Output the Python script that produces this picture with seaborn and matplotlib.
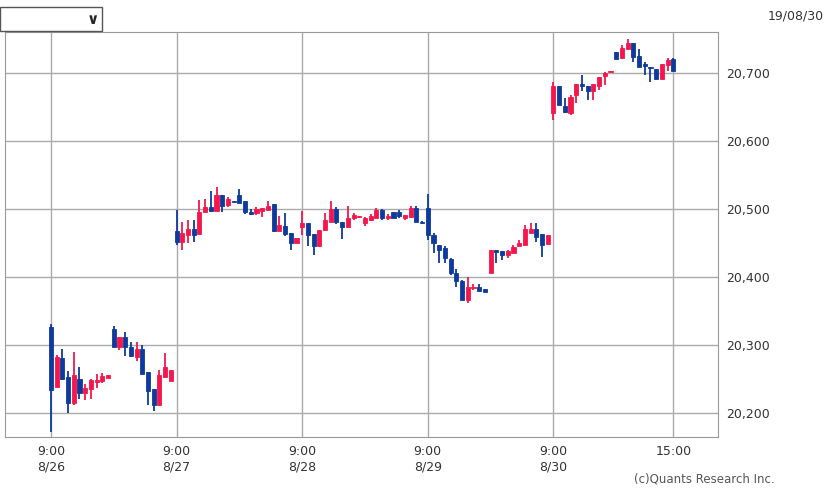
import numpy as np
import matplotlib.pyplot as plt
import matplotlib.patches as mpatches
import seaborn as sns

sns.set_style("white")
plt.rcParams["font.family"] = ["DejaVu Sans"]

# 15-minute candles, 22 per session, 5 sessions
day_labels = ["9:00\n8/26", "9:00\n8/27", "9:00\n8/28", "9:00\n8/29", "9:00\n8/30", "15:00"]
opens = [
    20327, 20238, 20281, 20253, 20215, 20250, 20229, 20235, 20246, 20247, 20252, 20324, 20297, 20312, 20297, 20282, 20294, 20260, 20235, 20212, 20253, 20247,
    20468, 20452, 20462, 20471, 20463, 20495, 20503, 20497, 20521, 20506, 20512, 20521, 20511, 20496, 20494, 20497, 20498, 20507, 20468, 20475, 20464, 20450,
    20474, 20479, 20463, 20445, 20469, 20481, 20500, 20481, 20474, 20487, 20488, 20479, 20484, 20486, 20498, 20487, 20496, 20496, 20487, 20488, 20502, 20481,
    20502, 20462, 20447, 20443, 20426, 20406, 20394, 20366, 20384, 20386, 20382, 20406, 20440, 20438, 20432, 20435, 20446, 20447, 20465, 20471, 20463, 20449,
    20641, 20680, 20651, 20641, 20668, 20684, 20681, 20673, 20680, 20695, 20701, 20731, 20722, 20735, 20743, 20725, 20713, 20709, 20705, 20691, 20712, 20720,
]
closes = [
    20234, 20283, 20251, 20215, 20256, 20229, 20237, 20249, 20249, 20254, 20256, 20297, 20312, 20297, 20284, 20294, 20257, 20232, 20212, 20256, 20268, 20263,
    20452, 20465, 20471, 20462, 20496, 20503, 20497, 20521, 20505, 20515, 20510, 20509, 20495, 20493, 20500, 20502, 20504, 20468, 20476, 20463, 20450, 20457,
    20479, 20462, 20446, 20469, 20484, 20500, 20481, 20474, 20487, 20491, 20490, 20486, 20489, 20498, 20486, 20489, 20487, 20489, 20491, 20502, 20481, 20480,
    20462, 20450, 20440, 20428, 20406, 20394, 20366, 20385, 20386, 20380, 20378, 20440, 20437, 20432, 20438, 20444, 20450, 20471, 20471, 20459, 20447, 20462,
    20681, 20653, 20643, 20665, 20683, 20681, 20673, 20684, 20693, 20700, 20702, 20720, 20737, 20743, 20723, 20709, 20710, 20707, 20691, 20713, 20718, 20703,
]
highs = [
    20331, 20285, 20294, 20262, 20290, 20268, 20243, 20251, 20257, 20259, 20256, 20328, 20312, 20319, 20304, 20304, 20300, 20260, 20235, 20263, 20288, 20263,
    20498, 20481, 20484, 20484, 20513, 20515, 20527, 20532, 20521, 20518, 20512, 20529, 20511, 20500, 20503, 20502, 20511, 20507, 20489, 20494, 20464, 20457,
    20497, 20479, 20463, 20469, 20494, 20512, 20503, 20481, 20505, 20494, 20490, 20488, 20493, 20502, 20500, 20492, 20496, 20499, 20491, 20505, 20505, 20482,
    20522, 20465, 20447, 20445, 20428, 20412, 20396, 20400, 20390, 20390, 20382, 20440, 20440, 20438, 20440, 20447, 20454, 20476, 20479, 20479, 20463, 20462,
    20687, 20680, 20663, 20668, 20683, 20697, 20681, 20684, 20693, 20701, 20702, 20731, 20741, 20750, 20743, 20735, 20716, 20709, 20705, 20713, 20722, 20722,
]
lows = [
    20172, 20238, 20249, 20201, 20212, 20221, 20219, 20221, 20237, 20244, 20252, 20297, 20293, 20284, 20282, 20277, 20257, 20212, 20204, 20212, 20253, 20247,
    20447, 20440, 20450, 20452, 20463, 20495, 20495, 20497, 20495, 20503, 20510, 20509, 20492, 20491, 20491, 20488, 20498, 20466, 20468, 20460, 20439, 20450,
    20462, 20445, 20432, 20445, 20469, 20481, 20478, 20456, 20472, 20484, 20487, 20475, 20482, 20486, 20484, 20484, 20487, 20487, 20484, 20486, 20481, 20479,
    20454, 20435, 20421, 20421, 20403, 20385, 20366, 20362, 20381, 20380, 20378, 20406, 20421, 20425, 20428, 20435, 20446, 20447, 20465, 20452, 20429, 20449,
    20631, 20653, 20641, 20638, 20656, 20673, 20660, 20660, 20675, 20682, 20701, 20720, 20722, 20735, 20716, 20709, 20697, 20686, 20691, 20691, 20702, 20703,
]
y_ticks = [20200, 20300, 20400, 20500, 20600, 20700]

red, blue = "#f5174b", "#0d3a9c"
o, c, h, l = map(np.array, (opens, closes, highs, lows))
x = np.arange(len(o))
colors = np.where(c >= o, red, blue)
bottoms = np.minimum(o, c)
heights = np.maximum(np.abs(c - o), 1.5)

fig = plt.figure(figsize=(8.28, 4.9), dpi=100)
ax = fig.add_axes([0.006, 0.108, 0.861, 0.827])

ax.vlines(x, l, h, colors=colors, lw=1.3, zorder=3)
ax.bar(x, heights, bottom=bottoms, width=0.72, color=colors,
       edgecolor=colors, linewidth=0.6, zorder=4)

tick_pos = [0, 22, 44, 66, 88, 109]
ax.set_xticks(tick_pos)
ax.set_xticklabels(day_labels, fontsize=9, color="#333333")
ax.set_yticks(y_ticks)
ax.set_yticklabels([f"{v:,}" for v in y_ticks], fontsize=9, color="#333333")
ax.yaxis.tick_right()
ax.tick_params(length=0, pad=6)
ax.set_xlim(-8.05, 116.8)
ax.set_ylim(20165, 20760)
ax.grid(True, color="#aaaaaa", lw=1, zorder=0)
for s in ax.spines.values():
    s.set_edgecolor("#999999")

# dropdown box and labels
fig.patches.append(mpatches.Rectangle((0.0, 0.936), 0.123, 0.05, transform=fig.transFigure,
                                      facecolor="white", edgecolor="#555555", lw=1))
fig.text(0.112, 0.961, "\u2228", fontsize=11, fontweight="bold", ha="center", va="center")
fig.text(0.995, 0.968, "19/08/30", fontsize=9, ha="right", va="center", color="#333333")
fig.text(0.935, 0.022, "(c)Quants Research Inc.", fontsize=8.5, ha="right", va="center", color="#555555")

fig.savefig("out.png", dpi=100)
